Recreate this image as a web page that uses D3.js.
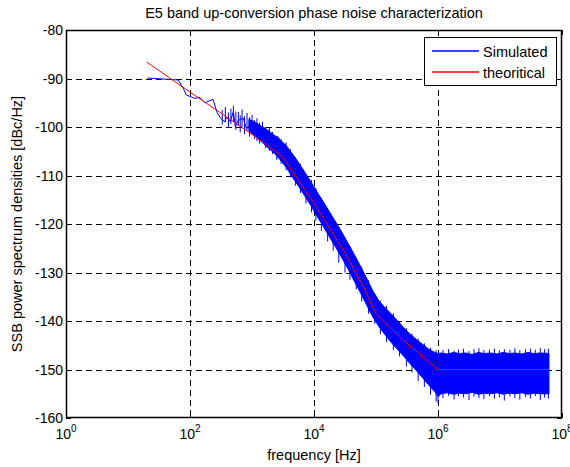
<!DOCTYPE html>
<html>
<head>
<meta charset="utf-8">
<script src="https://cdn.jsdelivr.net/npm/d3@7"></script>
<style>
  body { margin: 0; background: #fff; }
  svg { font-family: "Liberation Sans", Arial, sans-serif; }
</style>
</head>
<body>
<div id="chart"></div>
<script>
// ---------------------------------------------------------------------------
// Data
// ---------------------------------------------------------------------------

const xTickExp = [0, 2, 4, 6, 8];
const yTicks = [-160, -150, -140, -130, -120, -110, -100, -90, -80];

// theoretical mask (Hz, dBc/Hz)
const theoFreq = [20, 100, 1000, 3162, 1e4, 31623, 63096, 1e5, 251189, 1e6, 6.2e7];
const theoDb = [-86.6, -92.8, -101.5, -106.2, -115.7, -126, -133, -138.5, -143.5, -150, -150];

// simulated, sparse low-frequency part (decade exponent, dBc/Hz)
const simExp = [1.31, 1.81, 1.89, 1.94, 2.08, 2.16, 2.24, 2.37, 2.44, 2.50, 2.56, 2.59, 2.65,
  2.70, 2.73, 2.78, 2.86, 2.91, 2.97, 3.02, 3.10, 3.18, 3.26, 3.34, 3.42, 3.50, 3.56];
const simDb = [-89.9, -90.3, -92.0, -93.4, -94.1, -93.9, -95.0, -94.3, -97.1, -98.3, -98.9, -98.0, -98.9,
  -96.8, -99.9, -98.6, -98.2, -100.3, -99.6, -101.0, -100.3, -102.0, -101.3, -102.7, -102.0, -104.1, -105.4];

// simulated, dense part: upper / lower envelope of the noise band
const bandExp = [2.95, 3.05, 3.15, 3.25, 3.35, 3.45, 3.55, 3.65, 3.75, 3.85, 3.95, 4.05, 4.15, 4.25,
  4.35, 4.45, 4.55, 4.65, 4.75, 4.85, 4.95, 5.05, 5.15, 5.25, 5.35, 5.45, 5.55, 5.65, 5.75, 5.85,
  5.95, 6.00, 6.05, 6.15, 6.25, 6.35, 6.45, 6.55, 6.65, 6.75, 6.85, 6.95, 7.05, 7.15, 7.25, 7.35,
  7.45, 7.55, 7.65, 7.79];
const bandHi = [-98.4, -99.0, -99.8, -100.6, -101.6, -102.6, -103.8, -105.5, -107.3, -109.3, -111.3, -113.4, -115.4, -117.5,
  -119.6, -121.7, -124.0, -126.3, -128.7, -131.2, -133.8, -135.9, -137.3, -138.6, -140.0, -141.4, -142.7, -143.8, -144.8, -145.8,
  -146.5, -146.7, -146.6, -146.8, -146.5, -146.7, -146.6, -146.9, -146.5, -146.7, -146.6, -146.8, -146.5, -146.7, -146.6, -146.8,
  -146.5, -146.7, -146.6, -146.7];
const bandLo = [-100.8, -101.9, -103.0, -104.2, -105.3, -106.7, -108.3, -110.3, -112.2, -114.2, -116.2, -118.4, -120.5, -122.7,
  -124.8, -127.0, -129.3, -131.8, -134.2, -136.7, -139.2, -141.2, -142.9, -144.5, -145.9, -147.3, -148.8, -150.2, -151.7, -153.2,
  -154.6, -155.6, -155.0, -154.8, -155.1, -154.9, -155.0, -154.7, -155.1, -154.9, -155.0, -154.8, -155.1, -154.9, -155.0, -154.8,
  -155.1, -154.9, -155.0, -155.0];

// simulated, single noise spikes sticking out of the band
const spikeExp = [2.52, 2.57, 2.62, 2.66, 2.70, 2.74, 2.78, 2.81, 2.84, 2.88, 2.92, 2.96, 3.00, 3.04,
  3.08, 3.12, 3.17, 3.22, 3.28, 3.33, 3.40, 3.47, 3.55, 3.62, 3.70, 3.78, 3.87, 3.96, 4.03, 4.12,
  4.22, 4.31, 4.40, 4.50, 4.58, 4.68, 4.77, 4.88, 4.98, 5.07, 5.17, 5.28, 5.38, 5.49, 5.58, 5.68,
  5.78, 5.88, 5.97, 6.00, 6.08, 6.17, 6.26, 6.33, 6.41, 6.50, 6.58, 6.66, 6.74, 6.83, 6.91, 6.99,
  7.07, 7.16, 7.24, 7.32, 7.41, 7.49, 7.57, 7.65, 7.72, 7.78];
const spikeHi = [-96.5, -95.9, -97.0, -96.2, -95.6, -96.8, -96.9, -97.6, -96.4, -97.8, -97.1, -98.0, -97.5, -98.6,
  -98.2, -99.1, -98.9, -100.0, -100.1, -101.0, -101.8, -102.5, -103.2, -104.6, -106.3, -107.6, -109.8, -110.9, -112.6, -114.6,
  -116.9, -118.7, -120.6, -122.9, -124.6, -127.0, -128.8, -131.6, -134.4, -135.8, -136.9, -138.4, -140.0, -141.5, -142.6, -143.6,
  -144.6, -145.5, -146.0, -147.0, -146.0, -145.8, -146.1, -145.9, -145.7, -146.2, -145.8, -145.6, -146.0, -145.9, -145.7, -146.1,
  -145.8, -145.9, -145.6, -146.0, -145.8, -145.7, -145.9, -145.6, -145.8, -145.7];
const spikeLo = [-99.5, -99.0, -100.2, -99.4, -98.9, -100.6, -99.8, -101.1, -100.0, -101.5, -100.8, -102.0, -101.7, -102.5,
  -102.9, -103.4, -103.0, -104.4, -104.9, -105.6, -106.8, -107.6, -108.9, -110.4, -112.1, -113.6, -115.8, -117.6, -119.3, -121.4,
  -123.6, -125.5, -128.0, -130.0, -131.5, -133.5, -136.0, -138.5, -140.6, -142.7, -144.3, -146.0, -147.3, -149.4, -150.6, -152.4,
  -153.6, -155.2, -156.6, -157.0, -155.9, -155.4, -156.2, -155.5, -155.8, -156.3, -155.6, -155.9, -156.1, -155.5, -156.0, -155.7,
  -156.4, -155.6, -155.9, -156.2, -155.7, -156.0, -155.5, -156.3, -155.8, -156.0];

const legendLabels = ['Simulated', 'theoritical'];
const legendColors = ['#0000ff', '#ff0000'];

// ---------------------------------------------------------------------------
// Layout
// ---------------------------------------------------------------------------

const width = 570;
const height = 467;
const margin = { top: 30, right: 8, bottom: 49, left: 66 };
const plotW = width - margin.left - margin.right;
const plotH = height - margin.top - margin.bottom;
const blue = '#0000ff';

const svg = d3.select('#chart').append('svg')
  .attr('width', width)
  .attr('height', height);

const x = d3.scaleLog().domain([1, 1e8]).range([margin.left, margin.left + plotW]);
const y = d3.scaleLinear().domain([-160, -80]).range([margin.top + plotH, margin.top]);
const fx = e => x(Math.pow(10, e));

svg.append('clipPath').attr('id', 'plotclip')
  .append('rect')
  .attr('x', margin.left).attr('y', margin.top)
  .attr('width', plotW).attr('height', plotH);

// grid
const grid = svg.append('g').classed('grid', true)
  .attr('stroke', '#000')
  .attr('stroke-width', 1)
  .attr('stroke-dasharray', '6,4')
  .attr('shape-rendering', 'crispEdges');
grid.selectAll('line.gx').data(xTickExp.slice(1, -1)).enter().append('line')
  .attr('x1', d => Math.round(fx(d)) + 0.5)
  .attr('x2', d => Math.round(fx(d)) + 0.5)
  .attr('y1', margin.top).attr('y2', margin.top + plotH);
grid.selectAll('line.gy').data(yTicks.slice(1, -1)).enter().append('line')
  .attr('y1', d => Math.round(y(d)) + 0.5)
  .attr('y2', d => Math.round(y(d)) + 0.5)
  .attr('x1', margin.left).attr('x2', margin.left + plotW);

// data
const data = svg.append('g').attr('clip-path', 'url(#plotclip)');

const bandRows = bandExp.map((e, i) => ({ e, hi: bandHi[i], lo: bandLo[i] }));
data.append('path')
  .datum(bandRows)
  .attr('fill', blue)
  .attr('stroke', blue)
  .attr('stroke-width', 1)
  .attr('d', d3.area().x(d => fx(d.e)).y0(d => y(d.lo)).y1(d => y(d.hi)));

data.append('g').selectAll('line')
  .data(spikeExp.map((e, i) => ({ e, hi: spikeHi[i], lo: spikeLo[i] })))
  .enter().append('line')
  .attr('x1', d => fx(d.e)).attr('x2', d => fx(d.e))
  .attr('y1', d => y(d.hi)).attr('y2', d => y(d.lo))
  .attr('stroke', blue)
  .attr('stroke-width', 1);

const simRows = simExp.map((e, i) => ({ e, v: simDb[i] }));
data.append('path')
  .datum(simRows)
  .attr('fill', 'none')
  .attr('stroke', blue)
  .attr('stroke-width', 1)
  .attr('d', d3.line().x(d => fx(d.e)).y(d => y(d.v)));

const theoRows = theoFreq.map((f, i) => ({ f, v: theoDb[i] }));
data.append('path')
  .datum(theoRows)
  .attr('fill', 'none')
  .attr('stroke', '#ff0000')
  .attr('stroke-width', 1)
  .attr('d', d3.line().x(d => x(d.f)).y(d => y(d.v)));

// axes box
svg.append('rect')
  .attr('x', margin.left + 0.5).attr('y', margin.top + 0.5)
  .attr('width', plotW - 1).attr('height', plotH - 1)
  .attr('fill', 'none')
  .attr('stroke', '#000')
  .attr('stroke-width', 1.5);

// tick marks, inside on all four sides
const ticks = svg.append('g').attr('stroke', '#000').attr('stroke-width', 1)
  .attr('shape-rendering', 'crispEdges');
xTickExp.forEach((e) => {
  const px = Math.round(fx(e)) + 0.5;
  ticks.append('line').attr('x1', px).attr('x2', px)
    .attr('y1', margin.top + plotH).attr('y2', margin.top + plotH - 5);
  ticks.append('line').attr('x1', px).attr('x2', px)
    .attr('y1', margin.top).attr('y2', margin.top + 5);
});
yTicks.forEach((v) => {
  const py = Math.round(y(v)) + 0.5;
  ticks.append('line').attr('y1', py).attr('y2', py)
    .attr('x1', margin.left).attr('x2', margin.left + 5);
  ticks.append('line').attr('y1', py).attr('y2', py)
    .attr('x1', margin.left + plotW).attr('x2', margin.left + plotW - 5);
});

// tick labels
svg.append('g').selectAll('text').data(yTicks).enter().append('text')
  .attr('x', margin.left - 3)
  .attr('y', d => y(d) + 5)
  .attr('text-anchor', 'end')
  .attr('font-size', 14)
  .text(d => d);

const xl = svg.append('g').selectAll('text').data(xTickExp).enter().append('text')
  .attr('x', d => fx(d))
  .attr('y', margin.top + plotH + 21)
  .attr('text-anchor', 'middle')
  .attr('font-size', 14);
xl.append('tspan').text('10');
xl.append('tspan').attr('dy', -7).attr('font-size', 10).text(d => d);

// titles
svg.append('text')
  .attr('x', margin.left + plotW / 2)
  .attr('y', 18)
  .attr('text-anchor', 'middle')
  .attr('font-size', 14.5)
  .text('E5 band up-conversion phase noise characterization');

svg.append('text')
  .attr('x', margin.left + plotW / 2)
  .attr('y', 460)
  .attr('text-anchor', 'middle')
  .attr('font-size', 14.5)
  .text('frequency [Hz]');

svg.append('text')
  .attr('transform', `translate(22, ${margin.top + plotH / 2}) rotate(-90)`)
  .attr('text-anchor', 'middle')
  .attr('font-size', 14.5)
  .text('SSB power spectrum densities [dBc/Hz]');

// legend
const lg = svg.append('g').attr('transform', 'translate(424, 37)');
lg.append('rect')
  .attr('x', 0.5).attr('y', 0.5)
  .attr('width', 132).attr('height', 48)
  .attr('fill', '#fff')
  .attr('stroke', '#000')
  .attr('stroke-width', 1);
legendLabels.forEach((label, i) => {
  const ly = 14 + i * 21;
  lg.append('line')
    .attr('x1', 8).attr('x2', 55)
    .attr('y1', ly).attr('y2', ly)
    .attr('stroke', legendColors[i])
    .attr('stroke-width', 1.3);
  lg.append('text')
    .attr('x', 59).attr('y', ly + 5.5)
    .attr('font-size', 14.5)
    .text(label);
});
</script>
</body>
</html>
